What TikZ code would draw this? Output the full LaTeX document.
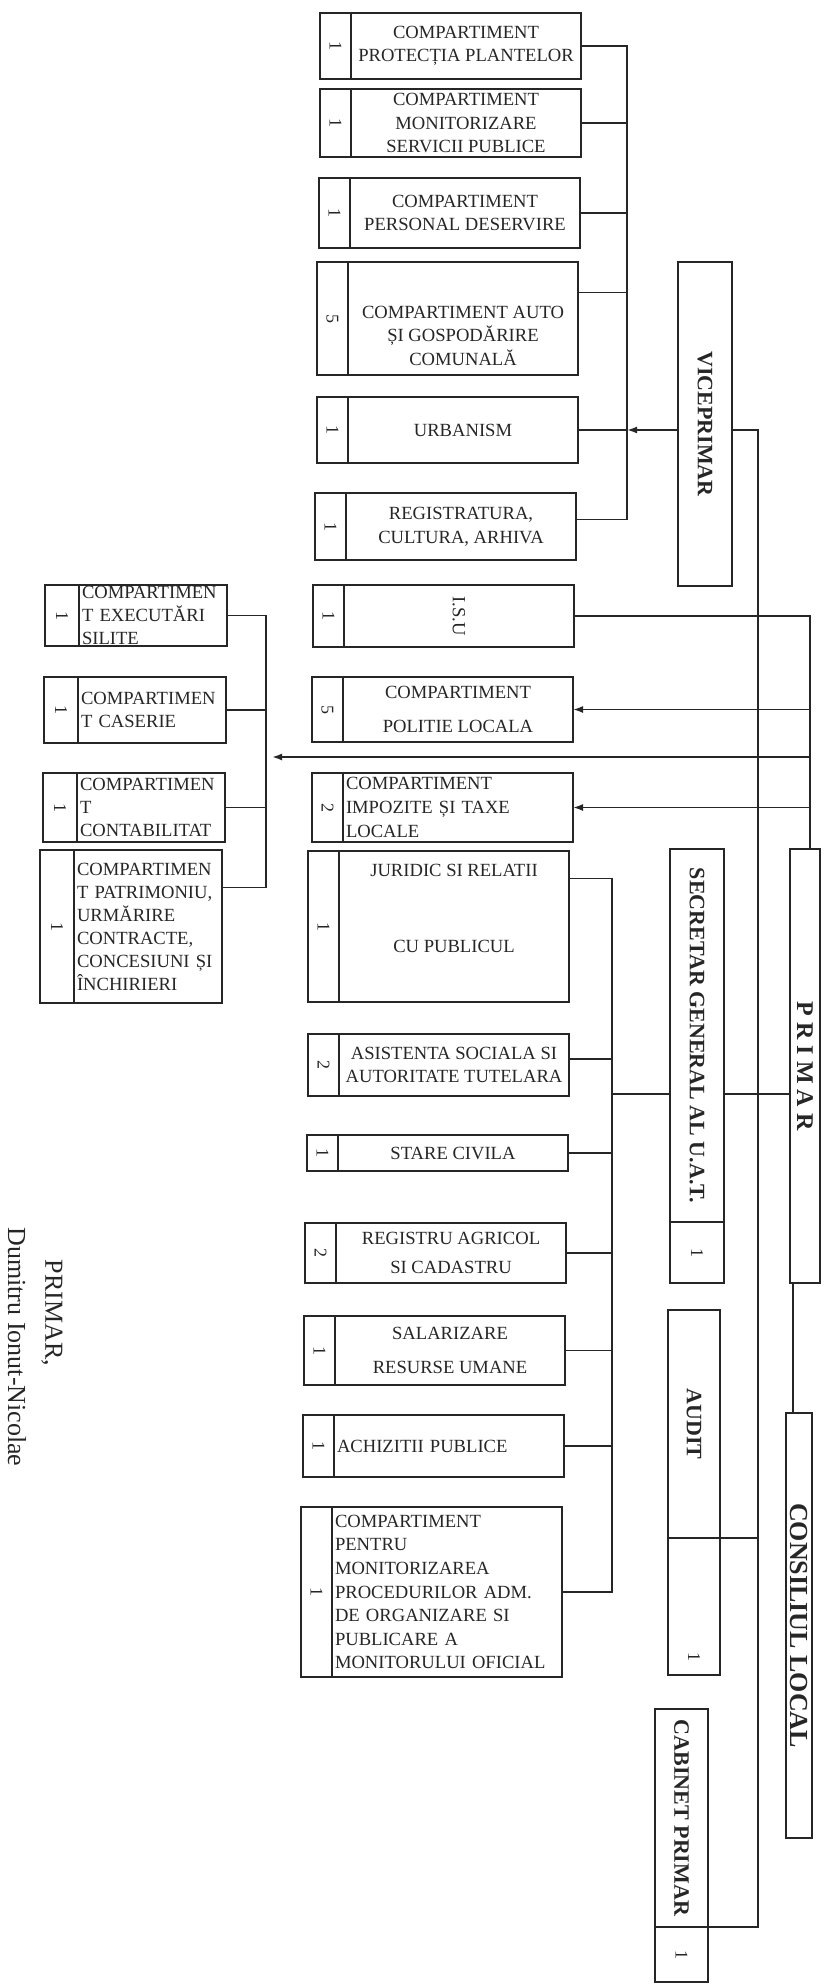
\documentclass[tikz,border=0pt]{standalone}
\usepackage{fontspec}
\usepackage{graphicx}
\setmainfont{Liberation Serif}
\usetikzlibrary{arrows.meta}
\newcommand{\vtext}[1]{\rotatebox{-90}{#1}}

\begin{document}
\begin{tikzpicture}[x=0.5pt,y=-0.5pt,line width=0.9pt,color=black!85,
	box/.style={draw,rectangle,inner sep=0pt,outer sep=0pt,anchor=north west},
	nr/.style={box,minimum width=15.5pt,font=\fontsize{9}{11}\selectfont},
	dept/.style={box,minimum width=115pt,align=center,font=\fontsize{9.3}{11.8}\selectfont},
	deptl/.style={dept,align=left,text width=112pt,inner xsep=1.5pt},
	lnr/.style={nr,minimum width=17pt},
	ldept/.style={box,minimum width=74pt,text width=71pt,inner xsep=1.5pt,align=left,font=\fontsize{9.3}{11.5}\selectfont},
	big/.style={draw,rectangle,inner sep=0pt,outer sep=0pt,anchor=north,font=\bfseries\fontsize{11}{13}\selectfont},
	arr/.style={-{Latex[length=5pt,width=3.5pt]}}]
		\useasboundingbox (0,0) rectangle (827,1986);
		
		\node[nr,minimum height=33pt] (n1) at (320,13) {\vtext{1}};
		\node[dept,minimum height=33pt] (d1) at (n1.north east) {COMPARTIMENT\\PROTECȚIA PLANTELOR};
		\node[nr,minimum height=34pt] (n2) at (320,89) {\vtext{1}};
		\node[dept,minimum height=34pt] (d2) at (n2.north east) {COMPARTIMENT\\MONITORIZARE\\SERVICII PUBLICE};
		\node[nr,minimum height=35pt] (n3) at (319,178) {\vtext{1}};
		\node[dept,minimum height=35pt] (d3) at (n3.north east) {COMPARTIMENT\\PERSONAL DESERVIRE};
		\node[nr,minimum height=56.5pt] (n4) at (317,262) {\vtext{5}};
		\node[dept,minimum height=56.5pt] (d4) at (n4.north east) {~\\[11.5pt]COMPARTIMENT AUTO\\ȘI GOSPODĂRIRE\\COMUNALĂ};
		\node[nr,minimum height=33pt] (n5) at (317,397) {\vtext{1}};
		\node[dept,minimum height=33pt] (d5) at (n5.north east) {URBANISM};
		\node[nr,minimum height=33.5pt] (n6) at (315,493) {\vtext{1}};
		\node[dept,minimum height=33.5pt] (d6) at (n6.north east) {REGISTRATURA,\\CULTURA, ARHIVA};
		
		\node[nr,minimum height=31pt] (n7) at (313,585) {\vtext{1}};
		\node[dept,minimum height=31pt] (d7) at (n7.north east) {\vtext{I.S.U}};
		\node[nr,minimum height=32.5pt] (n8) at (312,677) {\vtext{5}};
		\node[dept,minimum height=32.5pt] (d8) at (n8.north east) {COMPARTIMENT\\[5pt]POLITIE LOCALA};
		\node[nr,minimum height=34.5pt] (n9) at (312,773) {\vtext{2}};
		\node[deptl,minimum height=34.5pt] (d9) at (n9.north east) {COMPARTIMENT\\IMPOZITE ȘI TAXE\\LOCALE};
		
		\node[nr,minimum height=75.5pt] (n10) at (308,851) {\vtext{1}};
		\node[dept,minimum height=75.5pt] (d10) at (n10.north east) {JURIDIC SI RELATII\\[26.2pt]CU PUBLICUL\\[6.7pt]~};
		\node[nr,minimum height=31pt] (n11) at (308,1034) {\vtext{2}};
		\node[dept,minimum height=31pt] (d11) at (n11.north east) {ASISTENTA SOCIALA SI\\AUTORITATE TUTELARA};
		\node[nr,minimum height=18pt] (n12) at (307,1135) {\vtext{1}};
		\node[dept,minimum height=18pt] (d12) at (n12.north east) {STARE CIVILA};
		\node[nr,minimum height=30pt] (n13) at (305,1223) {\vtext{2}};
		\node[dept,minimum height=30pt] (d13) at (n13.north east) {REGISTRU AGRICOL\\[3pt]SI CADASTRU};
		\node[nr,minimum height=34.5pt] (n14) at (304,1316) {\vtext{1}};
		\node[dept,minimum height=34.5pt] (d14) at (n14.north east) {SALARIZARE\\[5.5pt]RESURSE UMANE};
		\node[nr,minimum height=31pt] (n15) at (303,1415) {\vtext{1}};
		\node[deptl,minimum height=31pt] (d15) at (n15.north east) {ACHIZITII PUBLICE};
		\node[nr,minimum height=85pt] (n16) at (301,1507) {\vtext{1}};
		\node[deptl,minimum height=85pt] (d16) at (n16.north east) {COMPARTIMENT\\PENTRU\\MONITORIZAREA\\PROCEDURILOR ADM.\\DE ORGANIZARE SI\\PUBLICARE A\\MONITORULUI OFICIAL};
		
		\node[lnr,minimum height=30.5pt] (n17) at (45,585) {\vtext{1}};
		\node[ldept,minimum height=30.5pt] (d17) at (n17.north east) {COMPARTIMEN\\T EXECUTĂRI\\SILITE};
		\node[lnr,minimum height=33pt] (n18) at (44,677) {\vtext{1}};
		\node[ldept,minimum height=33pt] (d18) at (n18.north east) {COMPARTIMEN\\T CASERIE};
		\node[lnr,minimum height=34.5pt] (n19) at (43,773) {\vtext{1}};
		\node[ldept,minimum height=34.5pt] (d19) at (n19.north east) {COMPARTIMEN\\T\\CONTABILITAT};
		\node[lnr,minimum height=76.5pt] (n20) at (40,850) {\vtext{1}};
		\node[ldept,minimum height=76.5pt] (d20) at (n20.north east) {COMPARTIMEN\\T PATRIMONIU,\\URMĂRIRE\\CONTRACTE,\\CONCESIUNI ȘI\\ÎNCHIRIERI};
		
		\node[big,minimum width=27pt,minimum height=162pt] (vice) at (705,262) {\vtext{VICEPRIMAR}};
		\node[big,minimum width=15pt,minimum height=217pt,font=\bfseries\fontsize{12}{14}\selectfont] (primar) at (805,849) {\vtext{P R I M A R}};
		\node[big,minimum width=27pt,minimum height=186.5pt] (secr) at (697,849) {\vtext{SECRETAR GENERAL AL U.A.T.}};
		\node[big,minimum width=27pt,minimum height=30.5pt,font=\fontsize{9}{11}\selectfont] (secrn) at (secr.south) {\vtext{1}};
		\node[big,minimum width=26pt,minimum height=114pt] (audit) at (694,1310) {\vtext{AUDIT}};
		\node[big,minimum width=26pt,minimum height=68.5pt] (auditn) at (audit.south) {};
		\node[inner sep=0pt,font=\fontsize{9}{11}\selectfont] (auditnr) at ([yshift=-25pt]auditn.center) {\vtext{1}};
		\node[big,minimum width=13pt,minimum height=212.5pt,font=\bfseries\fontsize{13}{15}\selectfont] (consiliu) at (799,1413) {\vtext{CONSILIUL LOCAL}};
		\node[big,minimum width=26.5pt,minimum height=109pt] (cab) at (681.5,1709) {\vtext{CABINET PRIMAR}};
		\node[big,minimum width=26.5pt,minimum height=27.5pt,font=\fontsize{9}{11}\selectfont] (cabn) at (cab.south) {\vtext{1}};
		
		\node[rotate=-90,font=\fontsize{13}{15}\selectfont] (sig1) at (52,1313) {PRIMAR,};
		\node[rotate=-90,font=\fontsize{13}{15}\selectfont] (sig2) at (17,1347) {Dumitru Ionut-Nicolae};
		
		\coordinate (vbus) at (627,0);
		\coordinate (rbus) at (758,0);
		\coordinate (pbus) at (810,0);
		\coordinate (lbus) at (266,757);
		\coordinate (sbus) at (612,1094);
		
		\draw (d1.east) -- (d1.east -| vbus) -- ([yshift=3.5pt]d6.east -| vbus) -- ([yshift=3.5pt]d6.east);
		\draw (d2.east) -- (d2.east -| vbus);
		\draw (d3.east) -- (d3.east -| vbus);
		\draw ([yshift=13pt]d4.east) -- ([yshift=13pt]d4.east -| vbus);
		\draw (d5.east) -- (d5.east -| vbus);
		\draw[arr] (vice.west |- d5.east) -- (d5.east -| vbus);
		
		\draw (vice.east |- d5.east) -| (rbus |- cab.south) -- (cab.south east);
		\draw (rbus |- audit.south) -- (audit.south east);
		
		\draw (pbus |- primar.north) -- (pbus |- d7.east) -- (d7.east);
		\draw[arr] (pbus |- d8.east) -- (d8.east);
		\draw[arr,shorten >=3pt] (pbus |- lbus) -- (lbus);
		\draw[arr] (pbus |- d9.east) -- (d9.east);
		
		\draw (d17.east) -- (d17.east -| lbus) -- ([yshift=19.5pt]d20.east -| lbus) -- ([yshift=19.5pt]d20.east);
		\draw (d18.east) -- (d18.east -| lbus);
		\draw (d19.east) -- (d19.east -| lbus);
		
		\draw ([yshift=24pt]d10.east) -- ([yshift=24pt]d10.east -| sbus) -- (sbus |- d16.east) -- (d16.east);
		\draw ([yshift=3pt]d11.east) -- ([yshift=3pt]d11.east -| sbus);
		\draw (d12.east) -- (d12.east -| sbus);
		\draw (d13.east) -- (d13.east -| sbus);
		\draw (d14.east) -- (d14.east -| sbus);
		\draw (d15.east) -- (d15.east -| sbus);
		\draw (sbus) -- (sbus -| secr.west);
		\draw (sbus -| secr.east) -- (sbus -| primar.west);
		
		\draw ([xshift=3.5pt]consiliu.north west) -- ([xshift=3.5pt]consiliu.north west |- primar.south);
\end{tikzpicture}
\end{document}
